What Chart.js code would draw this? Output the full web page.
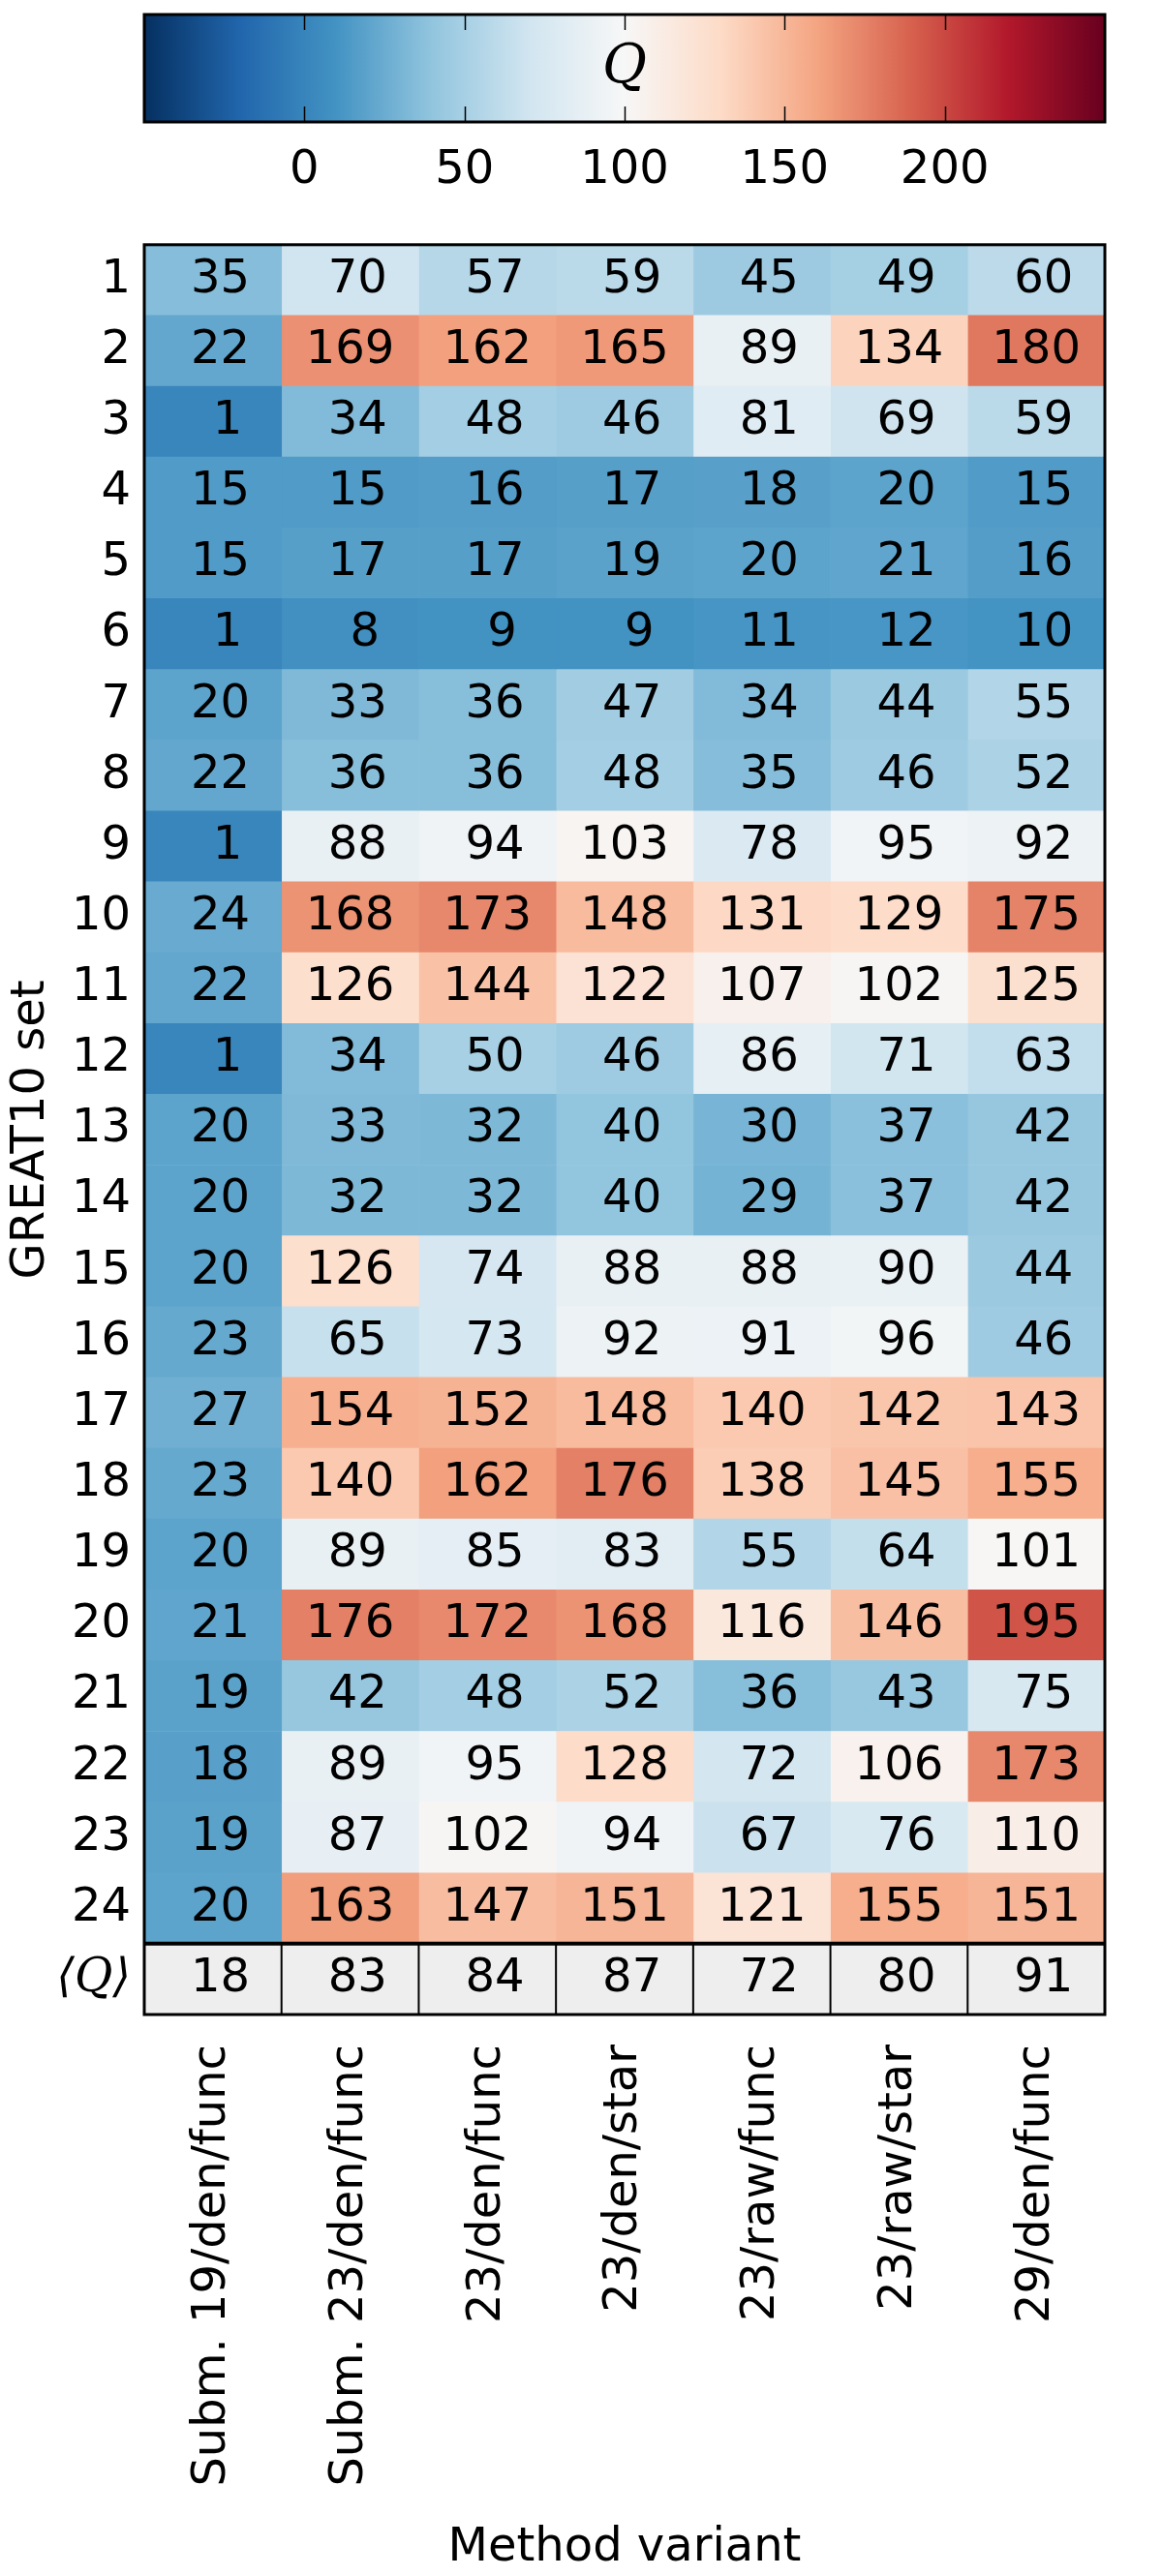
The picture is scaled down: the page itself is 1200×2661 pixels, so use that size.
<!DOCTYPE html>
<html>
<head>
<meta charset="utf-8">
<style>
  *{margin:0;padding:0;box-sizing:border-box}
  html,body{width:1200px;height:2661px;background:#fff;overflow:hidden}
  .wrap{position:absolute;left:0;width:1200px}
  #cbarWrap{top:0;height:210px}
  #heatWrap{top:210px;height:2451px}
</style>
</head>
<body>
<div class="wrap" id="cbarWrap"><canvas id="cbar"></canvas></div>
<div class="wrap" id="heatWrap"><canvas id="heat"></canvas></div>
<script src="https://cdn.jsdelivr.net/npm/chart.js@4/dist/chart.umd.min.js"></script>
<script>
// ─── Data ──────────────────────────────────────────────────────
const methodLabels = [
  "Subm. 19/den/func", "Subm. 23/den/func", "23/den/func", "23/den/star",
  "23/raw/func", "23/raw/star", "29/den/func",
];
const setLabels = ["1","2","3","4","5","6","7","8","9","10","11","12",
  "13","14","15","16","17","18","19","20","21","22","23","24"];
const meanLabel = "\u27E8Q\u27E9";

// Q per GREAT10 set, one array per method variant
const qSubm19    = [35, 22,  1, 15, 15,  1, 20, 22,  1,  24,  22,  1, 20, 20,  20, 23,  27,  23,  20,  21, 19,  18,  19,  20];
const qSubm23    = [70,169, 34, 15, 17,  8, 33, 36, 88, 168, 126, 34, 33, 32, 126, 65, 154, 140,  89, 176, 42,  89,  87, 163];
const q23DenFunc = [57,162, 48, 16, 17,  9, 36, 36, 94, 173, 144, 50, 32, 32,  74, 73, 152, 162,  85, 172, 48,  95, 102, 147];
const q23DenStar = [59,165, 46, 17, 19,  9, 47, 48,103, 148, 122, 46, 40, 40,  88, 92, 148, 176,  83, 168, 52, 128,  94, 151];
const q23RawFunc = [45, 89, 81, 18, 20, 11, 34, 35, 78, 131, 107, 86, 30, 29,  88, 91, 140, 138,  55, 116, 36,  72,  67, 121];
const q23RawStar = [49,134, 69, 20, 21, 12, 44, 46, 95, 129, 102, 71, 37, 37,  90, 96, 142, 145,  64, 146, 43, 106,  76, 155];
const q29DenFunc = [60,180, 59, 15, 16, 10, 55, 52, 92, 175, 125, 63, 42, 42,  44, 46, 143, 155, 101, 195, 75, 173, 110, 151];
const meanQ      = [18, 83, 84, 87, 72, 80, 91];

const cbarTicks = [0, 50, 100, 150, 200];

// ─── Colour map (RdBu_r, -50 … 250) ───────────────────────────
const VMIN = -50, VMAX = 250;
const RDBU_R = ["#053061","#2166ac","#4393c3","#92c5de","#d1e5f0","#f7f7f7",
                "#fddbc7","#f4a582","#d6604d","#b2182b","#67001f"];
const MEAN_FILL = "#eeeeee";
const FONT = "'DejaVu Sans', sans-serif";

function hexRgb(h) {
  return [1, 3, 5].map((i) => parseInt(h.slice(i, i + 2), 16));
}
function qColor(v) {
  let t = (v - VMIN) / (VMAX - VMIN);
  t = Math.max(0, Math.min(1, t)) * (RDBU_R.length - 1);
  const i = Math.min(Math.floor(t), RDBU_R.length - 2);
  const f = t - i;
  const a = hexRgb(RDBU_R[i]), b = hexRgb(RDBU_R[i + 1]);
  const c = a.map((x, k) => Math.round(x + (b[k] - x) * f));
  return `rgb(${c[0]},${c[1]},${c[2]})`;
}

Chart.defaults.font.family = FONT;
Chart.defaults.color = "#000";

// ─── Colour bar ────────────────────────────────────────────────
function barGradient(chart) {
  const a = chart.chartArea;
  if (!a) return RDBU_R[5];
  const g = chart.ctx.createLinearGradient(a.left, 0, a.right, 0);
  RDBU_R.forEach((c, i) => g.addColorStop(i / (RDBU_R.length - 1), c));
  return g;
}

const cbarDecor = {
  id: "cbarDecor",
  afterDraw(chart) {
    const { ctx, chartArea: a } = chart;
    const xs = chart.scales.x;
    ctx.save();
    ctx.strokeStyle = "#000";
    ctx.lineWidth = 1.5;
    cbarTicks.forEach((v) => {
      const x = Math.round(xs.getPixelForValue(v)) + 0.5;
      ctx.beginPath();
      ctx.moveTo(x, a.top); ctx.lineTo(x, a.top + 16);
      ctx.moveTo(x, a.bottom); ctx.lineTo(x, a.bottom - 16);
      ctx.stroke();
    });
    ctx.lineWidth = 3;
    ctx.strokeRect(a.left, a.top, a.right - a.left, a.bottom - a.top);
    ctx.font = "italic 56px 'DejaVu Serif', serif";
    ctx.fillStyle = "#000";
    ctx.textAlign = "center";
    ctx.textBaseline = "middle";
    ctx.fillText("Q", xs.getPixelForValue(100), (a.top + a.bottom) / 2);
    ctx.restore();
  },
};

new Chart(document.getElementById("cbar"), {
  type: "bar",
  data: {
    labels: ["Q"],
    datasets: [{
      data: [[VMIN, VMAX]],
      backgroundColor: (ctx) => barGradient(ctx.chart),
      borderWidth: 0,
      barPercentage: 1,
      categoryPercentage: 1,
    }],
  },
  options: {
    indexAxis: "y",
    responsive: true,
    maintainAspectRatio: false,
    animation: false,
    layout: { padding: { top: 15, left: 149, right: 59, bottom: 0 } },
    plugins: { legend: { display: false }, tooltip: { enabled: false } },
    scales: {
      x: {
        type: "linear",
        min: VMIN,
        max: VMAX,
        afterBuildTicks: (s) => { s.ticks = cbarTicks.map((v) => ({ value: v })); },
        afterFit: (s) => { s.height = 84; },
        grid: { display: false, drawTicks: false },
        border: { display: false },
        ticks: { font: { size: 48 }, padding: 22, maxRotation: 0 },
      },
      y: { display: false },
    },
  },
  plugins: [cbarDecor],
});

// ─── Heat map ──────────────────────────────────────────────────
const columns = [qSubm19, qSubm23, q23DenFunc, q23DenStar, q23RawFunc, q23RawStar, q29DenFunc];
const rowLabels = [...setLabels, meanLabel];

const datasets = columns.map((col, c) => {
  const q = [...col, meanQ[c]];
  return {
    label: methodLabels[c],
    q,
    data: q.map((v, r) => ({ x: [c, c + 1], y: rowLabels[r] })),
    backgroundColor: q.map((v, r) => (r === setLabels.length ? MEAN_FILL : qColor(v))),
    borderWidth: 0,
    barPercentage: 1,
    categoryPercentage: 1,
    grouped: false,
  };
});

const cellText = {
  id: "cellText",
  afterDatasetsDraw(chart) {
    const ctx = chart.ctx;
    ctx.save();
    ctx.font = `48px ${FONT}`;
    ctx.fillStyle = "#000";
    ctx.textAlign = "center";
    ctx.textBaseline = "middle";
    chart.data.datasets.forEach((ds, i) => {
      chart.getDatasetMeta(i).data.forEach((bar, j) => {
        const p = bar.getCenterPoint();
        ctx.fillText(String(ds.q[j]).padStart(3, " "), p.x, p.y);
      });
    });
    ctx.restore();
  },
};

const frame = {
  id: "frame",
  afterDraw(chart) {
    const { ctx, chartArea: a } = chart;
    const n = chart.data.datasets.length;
    ctx.save();
    ctx.strokeStyle = "#000";
    // separators in the mean row
    ctx.lineWidth = 2;
    for (let i = 0; i < n - 1; i++) {
      const meta = chart.getDatasetMeta(i);
      const bar = meta.data[meta.data.length - 1];
      ctx.beginPath();
      ctx.moveTo(bar.x, bar.y - bar.height / 2);
      ctx.lineTo(bar.x, bar.y + bar.height / 2);
      ctx.stroke();
    }
    const meta0 = chart.getDatasetMeta(0);
    const last = meta0.data[meta0.data.length - 1];
    const splitY = last.y - last.height / 2;
    ctx.lineWidth = 4;
    ctx.beginPath();
    ctx.moveTo(a.left, splitY);
    ctx.lineTo(a.right, splitY);
    ctx.stroke();
    ctx.lineWidth = 3;
    ctx.strokeRect(a.left, a.top, a.right - a.left, a.bottom - a.top);
    ctx.restore();
  },
};

new Chart(document.getElementById("heat"), {
  type: "bar",
  data: { labels: rowLabels, datasets },
  options: {
    indexAxis: "y",
    responsive: true,
    maintainAspectRatio: false,
    animation: false,
    layout: { padding: { top: 24, right: 59, left: 0, bottom: 0 } },
    plugins: { legend: { display: false }, tooltip: { enabled: false } },
    scales: {
      x: {
        type: "linear",
        min: 0,
        max: methodLabels.length,
        afterBuildTicks: (s) => { s.ticks = methodLabels.map((m, i) => ({ value: i + 0.5 })); },
        afterFit: (s) => { s.height = 580; },
        grid: { display: false, drawTicks: false },
        border: { display: false },
        ticks: {
          autoSkip: false,
          minRotation: 90,
          maxRotation: 90,
          padding: 31,
          font: { size: 48 },
          callback: (v, i) => methodLabels[i],
        },
        title: {
          display: true,
          text: "Method variant",
          font: { size: 48 },
          padding: { top: 0, bottom: 0 },
        },
      },
      y: {
        type: "category",
        afterFit: (s) => { s.width = 149; },
        grid: { display: false, drawTicks: false },
        border: { display: false },
        ticks: {
          padding: 14,
          font: (ctx) => (ctx.index === setLabels.length
            ? { size: 48, family: "'DejaVu Serif', serif", style: "italic" }
            : { size: 48 }),
        },
        title: {
          display: true,
          text: "GREAT10 set",
          font: { size: 48 },
          padding: { top: 4, bottom: 0 },
        },
      },
    },
  },
  plugins: [cellText, frame],
});
</script>
</body>
</html>
